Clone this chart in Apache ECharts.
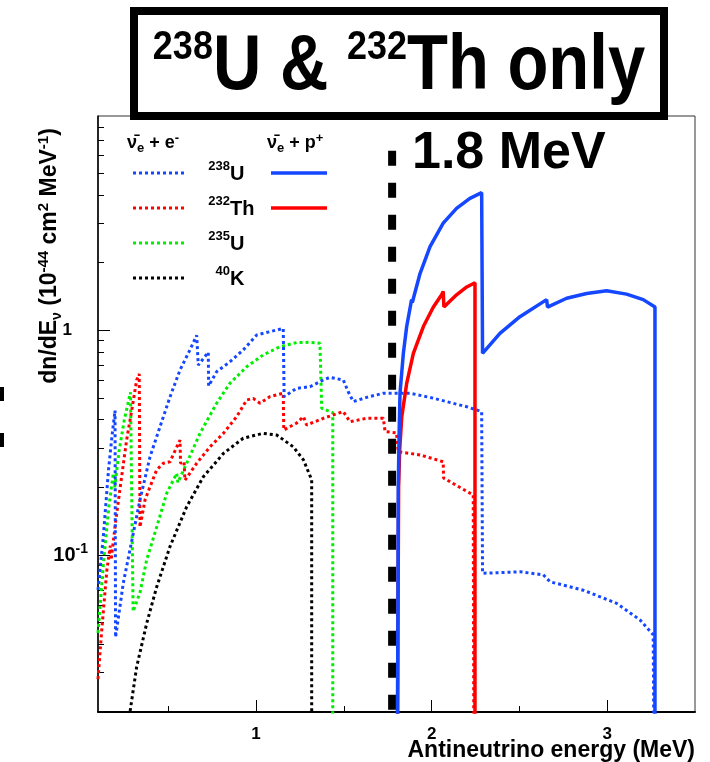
<!DOCTYPE html>
<html>
<head>
<meta charset="utf-8">
<script src="https://cdn.jsdelivr.net/npm/echarts@6/dist/echarts.min.js"></script>
<style>
  html, body { margin: 0; padding: 0; background: #fff; }
  #chart { width: 710px; height: 762px; }
</style>
</head>
<body>
<div id="chart"></div>
<script>
// energy (MeV), dn/dE
const u238_ee = [[0.10,0.07],[0.13,0.12],[0.16,0.24],[0.18,0.34],[0.197,0.44],[0.20,0.043],[0.244,0.075],[0.301,0.125],[0.339,0.176],[0.396,0.273],[0.453,0.372],[0.51,0.505],[0.567,0.666],[0.624,0.82],[0.662,0.95],[0.671,0.70],[0.728,0.80],[0.73,0.566],[0.776,0.655],[0.852,0.725],[0.927,0.818],[1.004,0.954],[1.08,0.987],[1.155,1.02],[1.16,0.507],[1.231,0.552],[1.307,0.561],[1.383,0.601],[1.421,0.618],[1.497,0.601],[1.525,0.533],[1.554,0.482],[1.63,0.503],[1.725,0.525],[1.877,0.525],[2.009,0.499],[2.2,0.457],[2.285,0.435],[2.29,0.083],[2.389,0.0834],[2.503,0.0842],[2.636,0.0816],[2.674,0.076],[2.864,0.0697],[3.054,0.0609],[3.187,0.0514],[3.262,0.0441],[3.265,0.019]];
const th232_ee = [[0.10,0.028],[0.12,0.045],[0.15,0.085],[0.17,0.11],[0.175,0.095],[0.20,0.14],[0.23,0.21],[0.263,0.325],[0.292,0.44],[0.32,0.6],[0.335,0.64],[0.339,0.133],[0.368,0.176],[0.396,0.201],[0.434,0.239],[0.472,0.256],[0.51,0.26],[0.567,0.325],[0.57,0.256],[0.59,0.26],[0.595,0.215],[0.662,0.256],[0.738,0.303],[0.814,0.348],[0.89,0.413],[0.947,0.49],[0.984,0.498],[1.023,0.474],[1.08,0.507],[1.155,0.525],[1.158,0.36],[1.23,0.386],[1.27,0.413],[1.288,0.379],[1.383,0.406],[1.497,0.435],[1.535,0.392],[1.63,0.406],[1.725,0.406],[1.735,0.354],[1.80,0.35],[1.81,0.288],[1.934,0.279],[2.066,0.26],[2.068,0.22],[2.237,0.185],[2.24,0.019]];
const u235_ee = [[0.10,0.045],[0.13,0.09],[0.16,0.16],[0.187,0.231],[0.195,0.2],[0.22,0.29],[0.25,0.4],[0.27,0.47],[0.285,0.53],[0.30,0.056],[0.339,0.068],[0.377,0.095],[0.434,0.133],[0.491,0.188],[0.548,0.231],[0.555,0.21],[0.605,0.256],[0.681,0.348],[0.776,0.474],[0.852,0.582],[0.947,0.689],[1.041,0.777],[1.136,0.846],[1.231,0.882],[1.307,0.885],[1.364,0.876],[1.374,0.45],[1.421,0.435],[1.437,0.43],[1.437,0.019]];
const k40_ee = [[0.278,0.019],[0.32,0.0317],[0.377,0.0495],[0.434,0.072],[0.51,0.109],[0.605,0.164],[0.70,0.223],[0.814,0.283],[0.927,0.331],[1.041,0.348],[1.118,0.342],[1.212,0.303],[1.27,0.265],[1.317,0.216],[1.317,0.019]];
const u238_ibd = [[1.806,0.019],[1.81,0.2],[1.815,0.35],[1.82,0.525],[1.839,0.79],[1.858,1.04],[1.886,1.37],[1.89,1.33],[1.934,1.79],[1.991,2.36],[2.066,3.0],[2.142,3.49],[2.218,3.87],[2.285,4.1],[2.29,0.79],[2.389,0.97],[2.503,1.15],[2.655,1.37],[2.66,1.27],[2.769,1.39],[2.883,1.46],[2.997,1.5],[3.11,1.45],[3.205,1.37],[3.272,1.27],[3.272,0.019]];
const th232_ibd = [[1.806,0.019],[1.812,0.2],[1.818,0.293],[1.83,0.413],[1.858,0.58],[1.896,0.79],[1.953,1.04],[2.01,1.27],[2.057,1.44],[2.066,1.49],[2.07,1.27],[2.142,1.44],[2.2,1.56],[2.247,1.63],[2.247,0.019]];

const thresholdE = 1.775;
const thresholdTop = 6.3;

const xMajor = [1, 2, 3];
const xMinor = [0.5, 1.5, 2.5];
const yMajor = [0.1, 1];
const yMinor = [0.02,0.03,0.04,0.05,0.06,0.07,0.08,0.09,0.2,0.3,0.4,0.5,0.6,0.7,0.8,0.9,2,3,4,5,6,7,8];

const FONT = '"Liberation Sans", Arial, sans-serif';
const BLUE = '#1447ff', RED = '#ff0000', GREEN = '#00ee00', BLACK = '#000';

function curve(data, color, dotted) {
  return {
    type: 'line', data: data, symbol: 'none', clip: true, animation: false,
    lineStyle: { color: color, width: dotted ? 3 : 3.5, type: dotted ? [3, 3] : 'solid', cap: 'butt' }
  };
}

const chart = echarts.init(document.getElementById('chart'));

const grid = { left: 98, top: 116, right: 15, bottom: 50 };

// legend pieces
const legendRows = [
  { sup: '238', el: 'U', color: BLUE, y: 173, ibd: true },
  { sup: '232', el: 'Th', color: RED, y: 208, ibd: true },
  { sup: '235', el: 'U', color: GREEN, y: 243, ibd: false },
  { sup: '40', el: 'K', color: BLACK, y: 278, ibd: false }
];
const graphics = [];
legendRows.forEach(r => {
  graphics.push({ type: 'line', shape: { x1: 133, y1: r.y, x2: 187, y2: r.y },
    style: { stroke: r.color, lineWidth: 3, lineDash: [3, 3] }, z: 50 });
  if (r.ibd) graphics.push({ type: 'line', shape: { x1: 271, y1: r.y, x2: 327, y2: r.y },
    style: { stroke: r.color, lineWidth: 3.5 }, z: 50 });
  graphics.push({ type: 'text', x: 230, y: r.y - 7, z: 50,
    style: { text: r.sup, font: 'bold 13px ' + FONT, fill: '#000', align: 'right', verticalAlign: 'middle' } });
  graphics.push({ type: 'text', x: 230, y: r.y + 1, z: 50,
    style: { text: r.el, font: 'bold 20px ' + FONT, fill: '#000', align: 'left', verticalAlign: 'middle' } });
});
const headRich = {
  m: { font: 'bold 18px ' + FONT, lineHeight: 23, fill: '#000' },
  s: { font: 'bold 13px ' + FONT, lineHeight: 13, verticalAlign: 'bottom', fill: '#000' },
  p: { font: 'bold 13px ' + FONT, lineHeight: 13, verticalAlign: 'top', fill: '#000' }
};
graphics.push({ type: 'text', x: 127, y: 143, z: 50,
  style: { text: '{m|ν\u0304}{s|e}{m| + e}{p|-}', rich: headRich, align: 'left', verticalAlign: 'middle' } });
graphics.push({ type: 'text', x: 267, y: 143, z: 50,
  style: { text: '{m|ν\u0304}{s|e}{m| + p}{p|+}', rich: headRich, align: 'left', verticalAlign: 'middle' } });

// title box
graphics.push({ type: 'rect', shape: { x: 134, y: 11, width: 530, height: 105 },
  style: { fill: '#fff', stroke: '#000', lineWidth: 8 }, z: 100 });
graphics.push({ type: 'text', x: 399, y: 68, scaleY: 1.15, z: 101,
  style: {
    text: '{s|238}{m|U & }{s|232}{m|Th only}', align: 'center', verticalAlign: 'middle',
    rich: {
      m: { font: 'bold 67px ' + FONT, lineHeight: 72, fill: '#000' },
      s: { font: 'bold 36px ' + FONT, lineHeight: 44, verticalAlign: 'top', fill: '#000' }
    }
  } });
// threshold label
graphics.push({ type: 'text', x: 412, y: 154, z: 50,
  style: { text: '1.8 MeV', font: 'bold 52px ' + FONT, fill: '#000', align: 'left', verticalAlign: 'middle' } });
// axis titles
graphics.push({ type: 'text', x: 50, y: 256, rotation: Math.PI / 2, z: 50,
  style: {
    text: '{m|dn/dE}{s|ν}{m| (10}{p|-44}{m| cm}{p|2}{m| MeV}{p|-1}{m|)}', align: 'center', verticalAlign: 'middle',
    rich: {
      m: { font: 'bold 23px ' + FONT, lineHeight: 28, fill: '#000' },
      s: { font: 'bold 14px ' + FONT, lineHeight: 14, verticalAlign: 'bottom', fill: '#000' },
      p: { font: 'bold 15px ' + FONT, lineHeight: 15, verticalAlign: 'top', fill: '#000' }
    }
  } });
graphics.push({ type: 'text', x: 695, y: 751, z: 50,
  style: { text: 'Antineutrino energy (MeV)', font: 'bold 23px ' + FONT, fill: '#000', align: 'right', verticalAlign: 'middle' } });
// cropped mark at the far left edge
graphics.push({ type: 'rect', shape: { x: 0, y: 387, width: 4, height: 14 }, style: { fill: '#000' }, z: 50 });
graphics.push({ type: 'rect', shape: { x: 0, y: 433, width: 4, height: 14 }, style: { fill: '#000' }, z: 50 });

const option = {
  animation: false,
  backgroundColor: '#fff',
  grid: Object.assign({ show: true, borderColor: '#333', borderWidth: 1 }, grid),
  xAxis: [
    { type: 'value', min: 0.1, max: 3.5, splitLine: { show: false },
      axisLine: { show: true, onZero: false, lineStyle: { color: '#000', width: 2 } },
      axisTick: { inside: true, length: 12, customValues: xMajor, lineStyle: { color: '#000', width: 1 } },
      axisLabel: { customValues: xMajor, margin: 14, color: '#000', fontFamily: FONT, fontWeight: 'bold', fontSize: 17 } },
    { type: 'value', min: 0.1, max: 3.5, position: 'bottom', splitLine: { show: false },
      axisLine: { show: false },
      axisTick: { inside: true, length: 6, customValues: xMinor, lineStyle: { color: '#000', width: 1 } },
      axisLabel: { show: false } }
  ],
  yAxis: [
    { type: 'log', logBase: 10, min: 0.02, max: 9, splitLine: { show: false },
      axisLine: { show: true, lineStyle: { color: '#000', width: 1.5 } },
      axisTick: { inside: true, length: 12, customValues: yMajor, lineStyle: { color: '#000', width: 1 } },
      axisLabel: {
        customValues: yMajor, margin: 10, color: '#000',
        formatter: v => Math.abs(v - 1) < 1e-6 ? '{a|1}' : '{b|10}{c|-1}',
        rich: {
          a: { fontFamily: FONT, fontWeight: 'bold', fontSize: 17, padding: [0, 16, 0, 0] },
          b: { fontFamily: FONT, fontWeight: 'bold', fontSize: 20, lineHeight: 26 },
          c: { fontFamily: FONT, fontWeight: 'bold', fontSize: 14, lineHeight: 14, verticalAlign: 'top' }
        }
      } },
    { type: 'log', logBase: 10, min: 0.02, max: 9, position: 'left', splitLine: { show: false },
      axisLine: { show: false },
      axisTick: { inside: true, length: 6, customValues: yMinor, lineStyle: { color: '#000', width: 1 } },
      axisLabel: { show: false } }
  ],
  graphic: graphics,
  series: [
    { type: 'line', data: [[thresholdE, thresholdTop], [thresholdE, 0.02]], symbol: 'none', clip: true,
      lineStyle: { color: '#000', width: 8, type: [15, 17], cap: 'butt' }, z: 1 },
    curve(k40_ee, BLACK, true),
    curve(u235_ee, GREEN, true),
    curve(th232_ee, RED, true),
    curve(u238_ee, BLUE, true),
    curve(th232_ibd, RED, false),
    curve(u238_ibd, BLUE, false)
  ]
};
chart.setOption(option);
</script>
</body>
</html>
